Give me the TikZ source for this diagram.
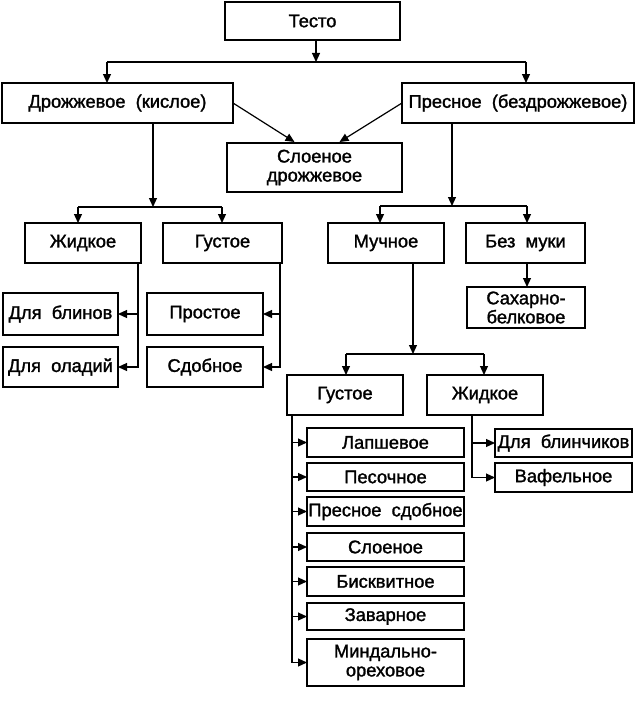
\documentclass[tikz,border=0pt]{standalone}
\usepackage{fontspec}
\setmainfont{Liberation Sans}[FakeBold=1.5]
\usetikzlibrary{arrows.meta,calc}
\tikzset{
  box/.style={draw, line width=1.4pt, inner sep=0pt, outer sep=0pt, align=center,
    font=\fontsize{18.3}{19}\selectfont},
  conn/.style={line width=1.2pt},
  arr/.style={conn, -{Triangle[length=9pt,width=8pt]}}
}
\begin{document}
\begin{tikzpicture}[x=1pt,y=-1pt]
\useasboundingbox (0,0) rectangle (636,701);
% boxes
\node[box, minimum width=175pt, minimum height=38pt] (testo) at (312.5,21) {Тесто};
\node[box, minimum width=231pt, minimum height=40pt] (drozh) at (117.5,103) {Дрожжевое\ \ (кислое)};
\node[box, minimum width=232pt, minimum height=40pt] (presn) at (518,103) {Пресное\ \ (бездрожжевое)};
\node[box, minimum width=175pt, minimum height=49pt] (sloen) at (314.5,167.5) {Слоеное\\дрожжевое};
\node[box, minimum width=116pt, minimum height=40pt] (zhidL) at (83,243) {Жидкое};
\node[box, minimum width=119pt, minimum height=40pt] (gustL) at (222.5,243) {Густое};
\node[box, minimum width=115pt, minimum height=42pt] (bliny) at (60.5,314) {Для\ \ блинов};
\node[box, minimum width=115pt, minimum height=40pt] (oladi) at (60.5,367) {Для\ \ оладий};
\node[box, minimum width=116pt, minimum height=42pt] (prost) at (205,314) {Простое};
\node[box, minimum width=116pt, minimum height=40pt] (sdobn) at (205,367) {Сдобное};
\node[box, minimum width=116pt, minimum height=40pt] (much) at (386,243) {Мучное};
\node[box, minimum width=119pt, minimum height=40pt] (bezm) at (525.5,243) {Без\ \ муки};
\node[box, minimum width=118pt, minimum height=41pt] (sakh) at (526,307.5) {Сахарно-\\белковое};
\node[box, minimum width=116pt, minimum height=40pt] (gustR) at (345,395) {Густое};
\node[box, minimum width=116pt, minimum height=40pt] (zhidR) at (485,395) {Жидкое};
\node[box, minimum width=157pt, minimum height=29pt] (lap) at (385.5,442.5) {Лапшевое};
\node[box, minimum width=157pt, minimum height=28pt] (pes) at (385.5,477) {Песочное};
\node[box, minimum width=157pt, minimum height=29pt] (prsd) at (385.5,511.5) {Пресное\ \ сдобное};
\node[box, minimum width=157pt, minimum height=28pt] (sloe) at (385.5,547) {Слоеное};
\node[box, minimum width=157pt, minimum height=29pt] (bisk) at (385.5,581.5) {Бисквитное};
\node[box, minimum width=157pt, minimum height=27pt] (zav) at (385.5,616.5) {Заварное};
\node[box, minimum width=157pt, minimum height=47pt] (mind) at (385.5,662.5) {Миндально-\\ореховое};
\node[box, minimum width=137pt, minimum height=28pt] (blinch) at (563.5,443) {Для\ \ блинчиков};
\node[box, minimum width=137pt, minimum height=29pt] (vaf) at (563.5,477.5) {Вафельное};
% junction coordinates
\coordinate (j1) at (316,62);
\coordinate (j1L) at (107,62);
\coordinate (j1R) at (526,62);
\coordinate (j2) at (153,207);
\coordinate (j2L) at (78,207);
\coordinate (j2R) at (222,207);
\coordinate (j3) at (452,206);
\coordinate (j3L) at (380,206);
\coordinate (j3R) at (527,206);
\coordinate (j4) at (413,354);
\coordinate (j4L) at (346,354);
\coordinate (j4R) at (484,354);
\coordinate (vL) at (138,0);
\coordinate (vG) at (280,0);
\coordinate (vR) at (292,0);
\coordinate (vZ) at (472,0);
\coordinate (vS) at (527,0);
% level 1
\draw[arr] (testo.south -| j1) -- (j1);
\draw[conn] (j1L) -- (j1R);
\draw[arr] (j1L) -- (j1L |- drozh.north);
\draw[arr] (j1R) -- (j1R |- presn.north);
% to sloenoe
\draw[arr] (drozh.east) -- ($(sloen.north)+(-20,-1)$);
\draw[arr] (presn.west) -- ($(sloen.north)+(25,-1)$);
% drozhzhevoe branch
\draw[arr] (drozh.south -| j2) -- (j2);
\draw[conn] (j2L) -- (j2R);
\draw[arr] (j2L) -- (j2L |- zhidL.north);
\draw[arr] (j2R) -- (j2R |- gustL.north);
\draw[arr] (zhidL.south -| vL) |- (oladi.east);
\draw[arr] (bliny.east -| vL) -- (bliny.east);
\draw[arr] (gustL.south -| vG) |- (sdobn.east);
\draw[arr] (prost.east -| vG) -- (prost.east);
% presnoe branch
\draw[arr] (presn.south -| j3) -- (j3);
\draw[conn] (j3L) -- (j3R);
\draw[arr] (j3L) -- (j3L |- much.north);
\draw[arr] (j3R) -- (j3R |- bezm.north);
\draw[arr] (bezm.south -| vS) -- (sakh.north -| vS);
\draw[arr] (much.south -| j4) -- (j4);
\draw[conn] (j4L) -- (j4R);
\draw[arr] (j4L) -- (j4L |- gustR.north);
\draw[arr] (j4R) -- (j4R |- zhidR.north);
% gustoe right
\draw[arr] (gustR.south -| vR) |- (mind.west);
\foreach \n in {lap,pes,prsd,sloe,bisk,zav} {
  \draw[arr] (\n.west -| vR) -- (\n.west);
}
% zhidkoe right
\draw[arr] (zhidR.south -| vZ) |- (vaf.west);
\draw[arr] (blinch.west -| vZ) -- (blinch.west);
\end{tikzpicture}
\end{document}
